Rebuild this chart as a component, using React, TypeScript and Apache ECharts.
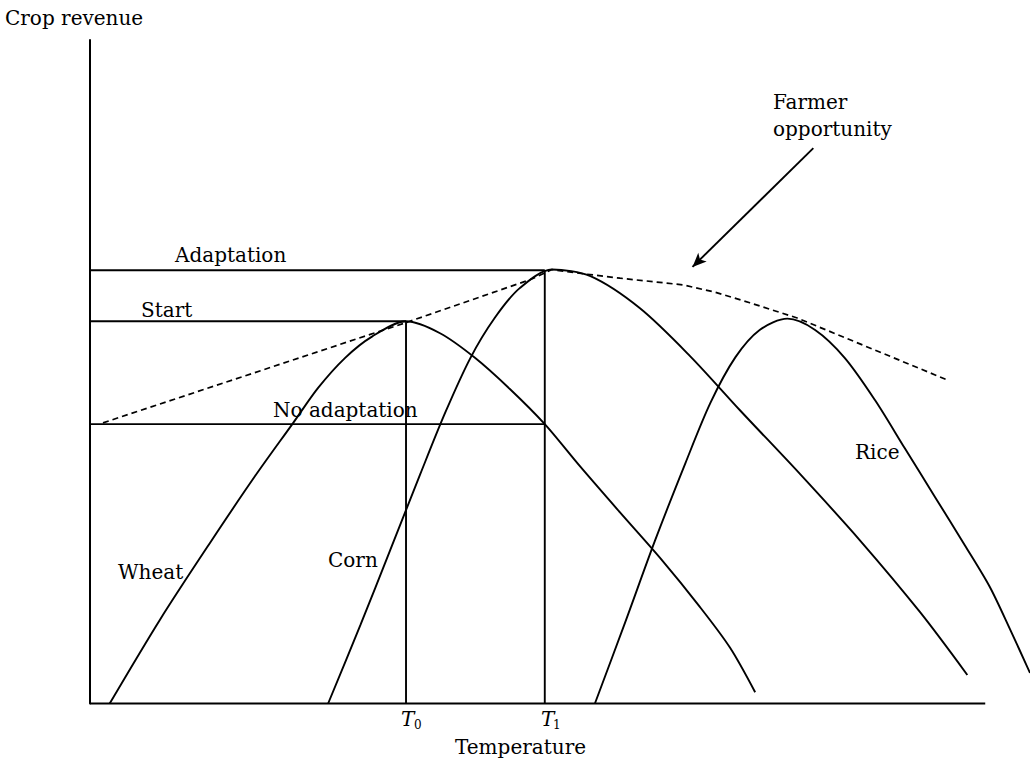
import React, { useEffect, useRef } from "react";
import * as echarts from "echarts";

// Levels (temperature units, revenue units 0-100)
const T0 = 35.3;
const T1 = 50.8;
const ADAPTATION = 65.3;
const START = 57.6;
const NO_ADAPTATION = 42.1;
const AXIS_END = 100;

const wheat: number[][] = [
  [2.2, 0], [7.8, 12.6], [13.4, 24.2], [18.4, 34.2], [22.7, 42.3], [25.5, 47.6],
  [28.5, 52.1], [31.5, 55.3], [35.3, 57.6], [39.1, 55.8], [43.0, 52.1], [46.9, 47.4],
  [50.8, 42.1], [54.7, 35.8], [59.2, 28.8], [63.7, 21.9], [68.1, 14.6], [71.5, 8.4],
  [74.3, 1.7],
];
const corn: number[][] = [
  [26.6, 0], [30.2, 11.8], [33.5, 23.0], [36.9, 34.6], [39.7, 43.9], [42.5, 52.1],
  [45.2, 58.1], [48.0, 62.6], [51.6, 65.4], [55.9, 64.4], [61.4, 59.6], [67.0, 52.4],
  [72.6, 44.2], [79.3, 34.6], [86.0, 24.6], [92.7, 13.8], [98.0, 4.3],
];
const rice: number[][] = [
  [56.4, 0], [59.8, 12.3], [63.1, 24.5], [66.5, 36.2], [69.3, 45.3], [72.1, 52.2],
  [74.8, 56.3], [77.9, 58.0], [81.0, 56.3], [84.3, 52.1], [87.7, 45.7], [91.0, 38.5],
  [94.4, 31.1], [97.7, 23.9], [100.5, 17.6], [102.8, 11.1], [105.0, 4.6],
];
const envelope: number[][] = [
  [1.45, 42.3], [35.5, 57.5], [49.2, 63.9], [51.6, 65.4], [55.5, 64.7], [59.2, 64.1],
  [66.2, 63.1], [69.8, 62.0], [73.7, 60.4], [79.0, 58.1], [95.7, 48.8],
];
const arrowFrom = [80.8, 83.7];
const arrowTo = [67.3, 65.8];

const FONT = "DejaVu Serif";
const FS = 20;

function txt(text: string, x: number, y: number, extra: any = {}) {
  return {
    type: "text",
    x,
    y,
    style: {
      text,
      fill: "#000",
      font: `${extra.italic ? "italic " : ""}${extra.size || FS}px "${FONT}"`,
      verticalAlign: "middle",
      align: "left",
    },
  };
}

export default function App() {
  const ref = useRef<HTMLDivElement>(null);
  useEffect(() => {
    if (!ref.current) return;
    const chart = echarts.init(ref.current, undefined, { renderer: "svg" });
    const curve = (name: string, data: number[][]) => ({
      name,
      type: "line",
      data,
      smooth: 0.3,
      showSymbol: false,
      symbol: "none",
      clip: false,
      lineStyle: { color: "#000", width: 1.9 },
      silent: true,
    });
    const seg = (name: string, data: number[][], w = 1.9) => ({
      name,
      type: "line",
      data,
      showSymbol: false,
      symbol: "none",
      clip: false,
      lineStyle: { color: "#000", width: w },
      silent: true,
    });
    chart.setOption({
      animation: false,
      backgroundColor: "#fff",
      grid: { left: 90, right: 0, top: 40, bottom: 57.5 },
      xAxis: {
        type: "value",
        min: 0,
        max: 105,
        axisLine: { show: false },
        axisTick: { show: false },
        axisLabel: { show: false },
        splitLine: { show: false },
      },
      yAxis: {
        type: "value",
        min: 0,
        max: 100,
        axisLine: { show: true, lineStyle: { color: "#000", width: 2 } },
        axisTick: { show: false },
        axisLabel: { show: false },
        splitLine: { show: false },
      },
      series: [
        seg("Temperature axis", [[0, 0], [AXIS_END, 0]], 2.2),
        curve("Wheat", wheat),
        curve("Corn", corn),
        curve("Rice", rice),
        {
          name: "Farmer opportunity",
          type: "line",
          data: envelope,
          showSymbol: false,
          symbol: "none",
          clip: false,
          lineStyle: { color: "#000", width: 1.7, type: [6, 4] },
          silent: true,
          markLine: {
            silent: true,
            symbol: ["none", "arrow"],
            symbolSize: [9, 14],
            label: { show: false },
            lineStyle: { color: "#000", width: 1.9, type: "solid" },
            data: [[{ coord: arrowFrom }, { coord: arrowTo }]],
          },
        },
        seg("Adaptation", [[0, ADAPTATION], [T1, ADAPTATION]]),
        seg("Start", [[0, START], [T0, START]]),
        seg("No adaptation", [[0, NO_ADAPTATION], [T1, NO_ADAPTATION]]),
        seg("T0", [[T0, 0], [T0, START]]),
        seg("T1", [[T1, 0], [T1, ADAPTATION]]),
      ],
      graphic: [
        txt("Crop revenue", 5, 18),
        txt("Adaptation", 175, 255),
        txt("Start", 141, 310),
        txt("No adaptation", 273, 410),
        txt("Wheat", 118, 572),
        txt("Corn", 328, 560),
        txt("Rice", 855, 452),
        txt("Farmer", 773, 102),
        txt("opportunity", 773, 129),
        txt("T", 401, 719, { italic: true }),
        txt("0", 414, 725, { size: 12 }),
        txt("T", 541, 719, { italic: true }),
        txt("1", 553, 725, { size: 12 }),
        txt("Temperature", 455, 747),
      ],
    });
    return () => chart.dispose();
  }, []);
  return (
    <div
      ref={ref}
      style={{ position: "fixed", left: 0, top: 0, width: 1030, height: 761, background: "#fff" }}
    />
  );
}
